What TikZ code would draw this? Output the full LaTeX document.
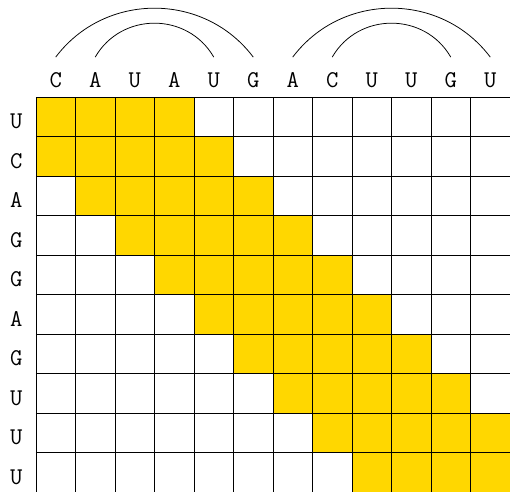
\documentclass[tikz,border=0pt]{standalone}
\usetikzlibrary{positioning}
\definecolor{band}{RGB}{255,215,0}
\tikzset{cell/.style={draw=black,line width=0.5pt},
  base/.style={font=\LARGE\ttfamily,inner sep=0pt,anchor=base},
  pair/.style={line width=0.55pt},
  wide/.style={out=53,in=127,looseness=1.06},
  narrow/.style={out=60,in=120,looseness=1.13}}

\begin{document}
\begin{tikzpicture}[x=1cm, y=1cm]
\useasboundingbox (-0.911,-10) rectangle (12,2.455);
\foreach \r in {0,...,9} {
  \foreach \c in {0,...,11} {
    \pgfmathtruncatemacro{\d}{\c-\r}
    \ifnum\d>-2 \ifnum\d<4 \fill[band] (\c,-\r) rectangle ++(1,-1); \fi\fi
  }
}
\draw[cell] (0,-10) grid (12,0);
\foreach \b [count=\i from 0] in {C,A,U,A,U,G,A,C,U,U,G,U}
  \node[base] (t\i) at (\i+0.5,0.25) {\b};
\foreach \b [count=\i from 0] in {U,C,A,G,G,A,G,U,U,U}
  \node[base] (s\i) at (-0.5,-\i-0.8) {\b};
\draw[pair] ([yshift=7.6mm]t0.base) to[wide] ([yshift=7.6mm]t5.base);
\draw[pair] ([yshift=7.6mm]t1.base) to[narrow] ([yshift=7.6mm]t4.base);
\draw[pair] ([yshift=7.6mm]t6.base) to[wide] ([yshift=7.6mm]t11.base);
\draw[pair] ([yshift=7.6mm]t7.base) to[narrow] ([yshift=7.6mm]t10.base);
\end{tikzpicture}
\end{document}
